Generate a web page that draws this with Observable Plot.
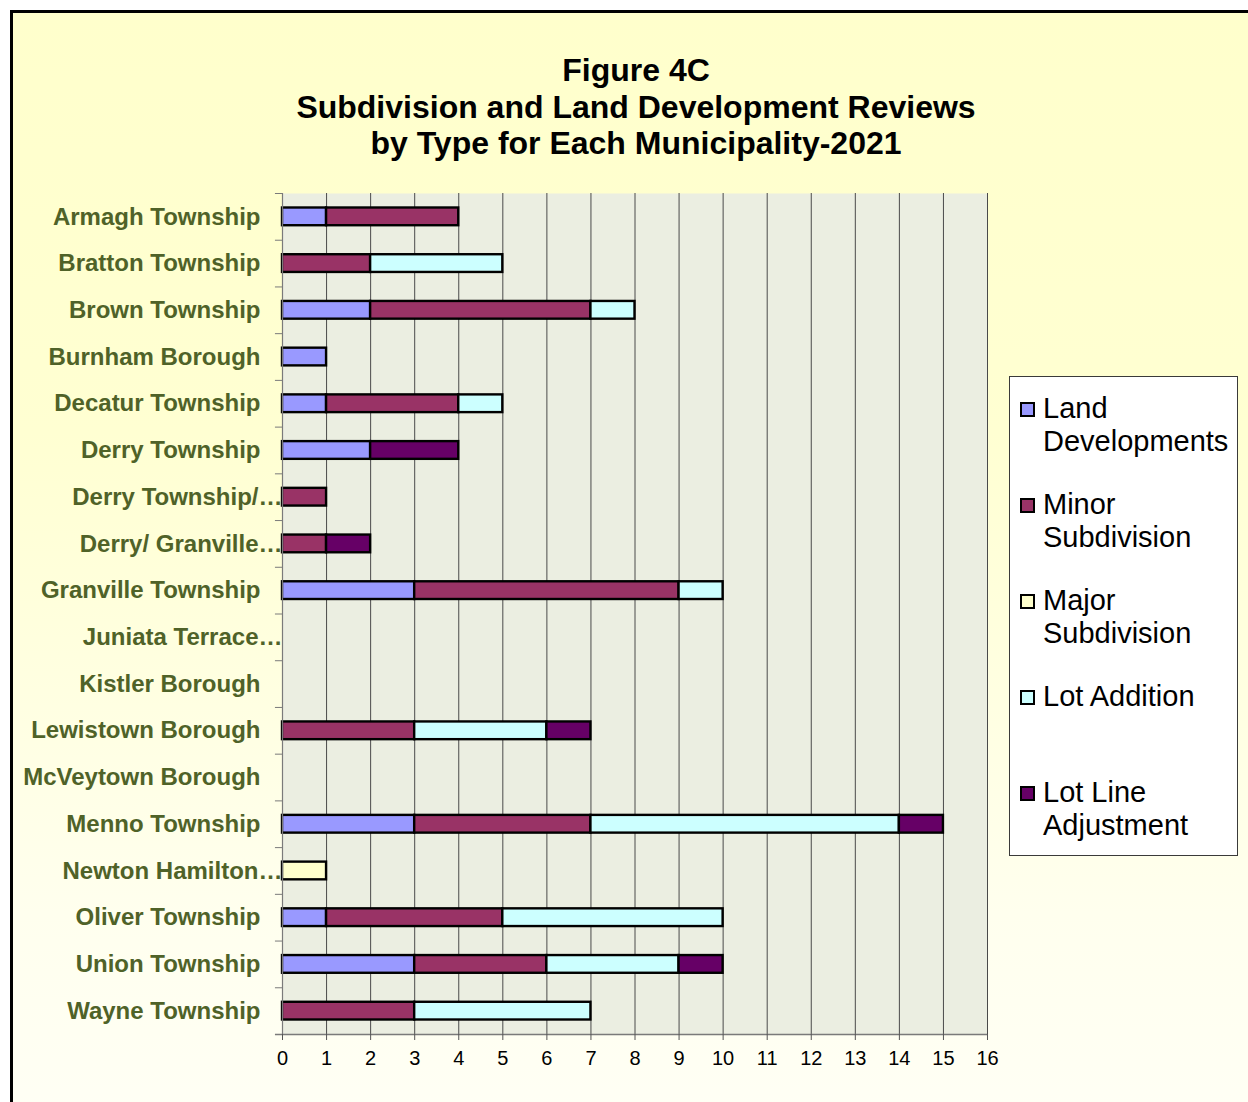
<!DOCTYPE html>
<html>
<head>
<meta charset="utf-8">
<script src="https://cdn.jsdelivr.net/npm/d3@7"></script>
<script src="https://cdn.jsdelivr.net/npm/@observablehq/plot@0.6"></script>
<style>
  html, body { margin: 0; padding: 0; }
  body { width: 1248px; height: 1102px; overflow: hidden; position: relative; background: #fff;
         font-family: Arial, "Liberation Sans", sans-serif; }
  #frame { position: absolute; left: 10px; top: 10px; width: 1300px; height: 1200px;
           border-top: 3.5px solid #000; border-left: 3.5px solid #000;
           background: linear-gradient(to bottom, #FFFFCC 0%, #FFFFD2 35%, #FFFFEE 75%, #FFFFF8 100%); }
  #title { position: absolute; left: 0; top: 52px; width: 1272px; text-align: center;
           font-weight: bold; font-size: 32px; line-height: 36.5px; color: #000; }
  #chart { position: absolute; left: 0; top: 170px; }
  #legend { position: absolute; left: 1009px; top: 376px; width: 227px; height: 478px;
            border: 1px solid #3a3a3a; background: #fff; }
  .item { position: absolute; left: 0; width: 227px; height: 96px; }
  .sw { position: absolute; left: 10px; top: 10.5px; width: 11px; height: 11px; border: 2px solid #000; }
  .lab { position: absolute; left: 33px; top: 0; width: 192px; font-size: 29px; line-height: 33px; color: #000; }
</style>
</head>
<body>
<div id="frame"></div>
<div id="title">Figure 4C<br>Subdivision and Land Development Reviews<br>by Type for Each Municipality-2021</div>
<div id="chart"></div>
<div id="legend"></div>
<script>
const municipalities = ["Armagh Township", "Bratton Township", "Brown Township", "Burnham Borough",
  "Decatur Township", "Derry Township", "Derry Township/…", "Derry/ Granville…", "Granville Township",
  "Juniata Terrace…", "Kistler Borough", "Lewistown Borough", "McVeytown Borough", "Menno Township",
  "Newton Hamilton…", "Oliver Township", "Union Township", "Wayne Township"];
const types = ["Land Developments", "Minor Subdivision", "Major Subdivision", "Lot Addition", "Lot Line Adjustment"];
const landDevelopments  = [1, 0, 2, 1, 1, 2, 0, 0, 3, 0, 0, 0, 0, 3, 0, 1, 3, 0];
const minorSubdivision  = [3, 2, 5, 0, 3, 0, 1, 1, 6, 0, 0, 3, 0, 4, 0, 4, 3, 3];
const majorSubdivision  = [0, 0, 0, 0, 0, 0, 0, 0, 0, 0, 0, 0, 0, 0, 1, 0, 0, 0];
const lotAddition       = [0, 3, 1, 0, 1, 0, 0, 0, 1, 0, 0, 3, 0, 7, 0, 5, 3, 4];
const lotLineAdjustment = [0, 0, 0, 0, 0, 2, 0, 1, 0, 0, 0, 1, 0, 1, 0, 0, 1, 0];
const typeColors = ["#9999FF", "#993366", "#FFFFCC", "#CCFFFF", "#660066"];
const xTicks = [0, 1, 2, 3, 4, 5, 6, 7, 8, 9, 10, 11, 12, 13, 14, 15, 16];

const series = [landDevelopments, minorSubdivision, majorSubdivision, lotAddition, lotLineAdjustment];
const data = [];
municipalities.forEach((m, i) => {
  types.forEach((t, j) => {
    if (series[j][i] > 0) data.push({municipality: m, type: t, value: series[j][i]});
  });
});

const W = 1010, H = 932, mt = 23, mb = 68, ml = 282, mr = 23;
const bw = (H - mt - mb) / municipalities.length;
const fontFam = "Arial, 'Liberation Sans', sans-serif";
const labelColor = "#4F6228";
const full = municipalities.filter(d => !d.endsWith("…"));
const cut = municipalities.filter(d => d.endsWith("…"));

const chart = Plot.plot({
  width: W, height: H,
  marginTop: mt, marginBottom: mb, marginLeft: ml, marginRight: mr,
  style: {background: "transparent", fontFamily: fontFam, overflow: "visible"},
  x: {domain: [0, 16], label: null},
  y: {domain: municipalities, padding: 0, round: false, label: null},
  color: {domain: types, range: typeColors},
  marks: [
    Plot.frame({fill: "#EBEEE1", stroke: null}),
    Plot.gridX(xTicks, {stroke: "#4a4a4a", strokeOpacity: 1, strokeWidth: 1}),
    Plot.barX(data, Plot.stackX({
      y: "municipality", x: "value", fill: "type", order: types,
      stroke: "#000", strokeWidth: 2.4, insetTop: 14.5, insetBottom: 14.5
    })),
    Plot.ruleX([0], {stroke: "#7a7a7a", strokeWidth: 1.2}),
    Plot.ruleY(municipalities, {y: d => d, x1: -0.16, x2: 0, dy: -bw / 2, stroke: "#7a7a7a"}),
    Plot.ruleY([municipalities[municipalities.length - 1]], {y: d => d, x1: -0.16, x2: 16, dy: bw / 2, stroke: "#7a7a7a", strokeWidth: 1.5}),
    Plot.axisX(xTicks, {tickSize: 6, tickPadding: 10, fontSize: 20, color: "#000", stroke: "#555", label: null}),
    Plot.axisY(full, {tickSize: 0, tickPadding: 22, fontSize: 24, fontWeight: "bold", color: labelColor, fill: labelColor, label: null}),
    Plot.axisY(cut, {tickSize: 0, tickPadding: 0, fontSize: 24, fontWeight: "bold", color: labelColor, fill: labelColor, label: null})
  ]
});
document.getElementById("chart").appendChild(chart);

const legend = document.getElementById("legend");
types.forEach((t, j) => {
  const item = document.createElement("div");
  item.className = "item";
  item.style.top = (14.5 + 96 * j) + "px";
  const sw = document.createElement("div");
  sw.className = "sw";
  sw.style.background = typeColors[j];
  const lab = document.createElement("div");
  lab.className = "lab";
  lab.textContent = t;
  item.appendChild(sw);
  item.appendChild(lab);
  legend.appendChild(item);
});
</script>
</body>
</html>
